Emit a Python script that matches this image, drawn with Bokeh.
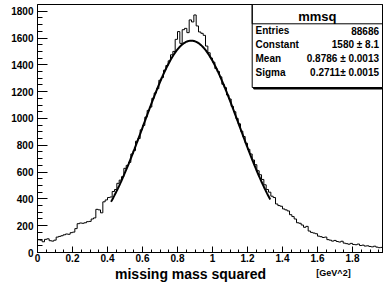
import numpy as np
from bokeh.plotting import figure
from bokeh.layouts import column
from bokeh.models import Label, BoxAnnotation, FixedTicker
from bokeh.core.properties import value
from bokeh.embed import file_html
from bokeh.resources import INLINE

# ---------------- data ----------------
hist_name = "mmsq"
x_lo, x_hi, n_bins = 0.0, 2.0, 150
counts = [
    95, 92, 80, 98, 102, 88, 85, 92, 115, 120, 125, 132, 138, 136, 148, 152, 178, 215, 220, 218,
    222, 230, 232, 250, 258, 322, 318, 296, 378, 392, 410, 414, 455, 470, 516, 540, 566, 628,
    650, 672, 735, 760, 830, 850, 915, 948, 1010, 1060, 1085, 1150, 1190, 1222, 1285, 1305, 1360, 1395,
    1430, 1475, 1500, 1590, 1648, 1560, 1662, 1672, 1640, 1735, 1720, 1772, 1690, 1645, 1635, 1620, 1540, 1490,
    1450, 1420, 1372, 1350, 1310, 1255, 1230, 1175, 1145, 1090, 1050, 1000, 960, 905, 865,
    815, 770, 735, 690, 655, 610, 580, 545, 505, 470, 450, 420,
    410, 362, 350, 345, 325, 318, 310, 282, 268, 250, 222, 218, 205, 188, 195, 160, 150, 145, 140, 122,
    118, 112, 115, 96, 92, 85, 90, 82, 78, 84, 70, 66, 62, 68, 60, 58, 63, 52, 55, 48,
    50, 45, 42, 47, 40, 36, 38, 34, 32,
]
fit_constant, fit_mean, fit_sigma = 1580.0, 0.8786, 0.2711
fit_range = (0.42, 1.33)
stats_labels = ["Entries", "Constant", "Mean", "Sigma"]
stats_values = ["88686", "1580 \u00b1 8.1", "0.8786 \u00b1 0.0013", "0.2711\u00b1 0.0015"]
x_ticks = [0, 0.2, 0.4, 0.6, 0.8, 1, 1.2, 1.4, 1.6, 1.8]
y_ticks = [0, 200, 400, 600, 800, 1000, 1200, 1400, 1600, 1800]
x_title = "missing mass squared"
x_unit = "[GeV^2]"

# ---------------- layout ----------------
W = 383
H1, H2 = 266, 19
BL, BR, BT, BB = 37, 0, 4, 14
XMAX = 1.977
YMAX = 1850.0
FONT = "Liberation Sans"

p = figure(width=W, height=H1, output_backend="svg", toolbar_location=None,
           x_range=(0, XMAX), y_range=(0, YMAX))
p.min_border_left = BL
p.min_border_right = BR
p.min_border_top = BT
p.min_border_bottom = BB
p.background_fill_color = "white"
p.border_fill_color = "white"
p.outline_line_color = "black"
p.outline_line_width = 1
p.grid.visible = False

fw = W - BL - BR
fh = H1 - BT - BB
def px2x(px):
    return (px - BL) / fw * XMAX
def py2y(py):
    return (BT + fh - py) / fh * YMAX

# axes
xa = p.xaxis[0]
xa.ticker = FixedTicker(ticks=x_ticks, minor_ticks=list(np.round(np.arange(0, 2.0001, 0.05), 3)))
xa.major_label_overrides = {t: ("%g" % t) for t in x_ticks}
xa.major_tick_in = 6
xa.major_tick_out = 0
xa.minor_tick_in = 3
xa.minor_tick_out = 0
xa.major_label_standoff = 1
ya = p.yaxis[0]
ya.ticker = FixedTicker(ticks=y_ticks, minor_ticks=list(range(0, 1850, 50)))
ya.major_tick_in = 10
ya.major_tick_out = 0
ya.minor_tick_in = 5
ya.minor_tick_out = 0
ya.major_label_standoff = 4
for ax in (xa, ya):
    ax.axis_line_color = "black"
    ax.major_tick_line_color = "black"
    ax.minor_tick_line_color = "black"
    ax.major_label_text_font = FONT
    ax.major_label_text_font_style = "bold"
    ax.major_label_text_font_size = "10px"
    ax.major_label_text_color = "black"

# histogram
edges = np.linspace(x_lo, x_hi, n_bins + 1)
hx = np.append(edges[:-1], edges[-1])
hy = np.append(np.array(counts, dtype=float), counts[-1])
p.step(x=hx, y=hy, mode="after", line_color="black", line_width=1)

# gaussian fit
fx = np.linspace(fit_range[0], fit_range[1], 300)
fy = fit_constant * np.exp(-0.5 * ((fx - fit_mean) / fit_sigma) ** 2)
p.line(fx, fy, line_color="black", line_width=2)

# stats box
bx_l, bx_r, bx_t, bx_b, bx_sep = 251.7, 382.0, 4.0, 87.0, 23.3
p.add_layout(BoxAnnotation(left=px2x(bx_l + 1.5), right=px2x(bx_r + 1.5), top=py2y(bx_t + 1.5),
                           bottom=py2y(bx_b + 1.5), fill_color="black", fill_alpha=1,
                           line_color="black", line_alpha=1))
p.add_layout(BoxAnnotation(left=px2x(bx_l), right=px2x(bx_r), top=py2y(bx_t), bottom=py2y(bx_b),
                           fill_color="white", fill_alpha=1, line_color="black", line_width=1,
                           line_alpha=1))
p.add_layout(BoxAnnotation(left=px2x(bx_l), right=px2x(bx_r), top=py2y(bx_t), bottom=py2y(bx_sep),
                           fill_alpha=0, line_color="black", line_width=1, line_alpha=1))
p.add_layout(Label(x=px2x((bx_l + bx_r) / 2), y=py2y(16), text=hist_name, text_align="center",
                   text_baseline="middle", text_font=FONT, text_font_style="bold",
                   text_font_size="13px", text_color="black"))
row_y = [30, 44, 58.3, 71.7]
for lab, val, ry in zip(stats_labels, stats_values, row_y):
    p.add_layout(Label(x=px2x(255), y=py2y(ry), text=lab, text_align="left",
                       text_baseline="middle", text_font=FONT, text_font_style="bold",
                       text_font_size="10px", text_color="black"))
    p.add_layout(Label(x=px2x(378.5), y=py2y(ry), text=val, text_align="right",
                       text_baseline="middle", text_font=FONT, text_font_style="bold",
                       text_font_size="10px", text_color="black"))

# strip below the axis holding the axis titles; its frame is aligned with the main frame,
# so its x range is expressed in page pixels across that frame
p2 = figure(width=W, height=H2, output_backend="svg", toolbar_location=None,
            x_range=(BL, W - BR), y_range=(H2, 0), x_axis_type=None, y_axis_type=None)
p2.min_border_left = BL
p2.min_border_right = BR
p2.min_border_top = 0
p2.min_border_bottom = 0
p2.outline_line_color = None
p2.grid.visible = False
p2.background_fill_color = "white"
p2.border_fill_color = "white"
p2.text(x=[190], y=[273 - H1], text=[x_title], text_align="center", text_baseline="middle",
        text_font=value(FONT), text_font_style="bold", text_font_size="14px", text_color="black")
p2.text(x=[333], y=[272.5 - H1], text=[x_unit], text_align="center", text_baseline="middle",
        text_font=value(FONT), text_font_style="bold", text_font_size="9px", text_color="black")

layout = column(p, p2, spacing=0)
open("out.html", "w").write(file_html(layout, INLINE))
